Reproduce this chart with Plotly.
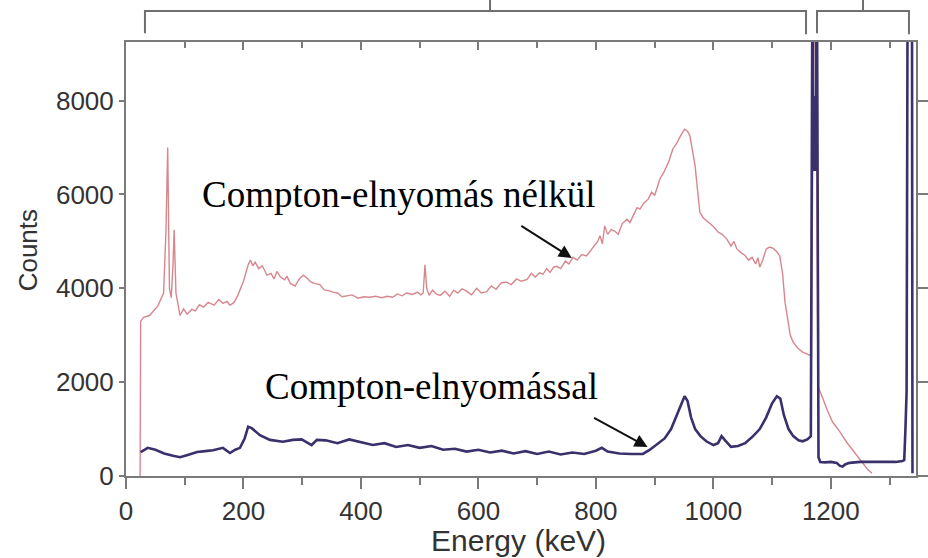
import plotly.graph_objects as go

# ---------------- data ----------------
pink_energy = [24, 25, 30, 40, 54, 64, 68, 71, 74, 77, 80, 82, 85, 92, 98, 104, 112, 118, 125, 132,
               140, 150, 158, 165, 172, 177, 184, 190, 200, 208, 212, 216, 220, 226, 232, 240, 247, 252,
               257, 263, 270, 274, 280, 288, 295, 302, 308, 315, 322, 330, 338, 345, 352, 360, 368, 376,
               385, 395, 405, 415, 425, 435, 445, 454, 462, 470, 478, 488, 496, 502, 506, 509, 512, 516,
               522, 528, 535, 543, 551, 558, 565, 572, 580, 588, 597, 605, 614, 622, 630, 639, 648, 656,
               665, 673, 683, 690, 697, 704, 710, 716, 722, 728, 733, 740, 748, 754, 761, 768, 776, 784,
               790, 797, 803, 807, 811, 815, 820, 826, 832, 838, 845, 853, 858, 864, 870, 875, 882, 889,
               895, 900, 909, 916, 924, 931, 938, 944, 951, 956, 960, 965, 969, 973, 977, 983, 990, 1000,
               1008, 1015, 1023, 1030, 1035, 1040, 1048, 1054, 1060, 1066, 1072, 1076, 1079, 1084, 1090,
               1096, 1102, 1108, 1113, 1118, 1122, 1126, 1131, 1136, 1144, 1152, 1160, 1167, 1170, 1172,
               1175, 1178, 1185, 1194, 1203, 1215, 1227, 1240, 1253, 1262, 1270]
pink_counts = [0, 3300, 3380, 3420, 3620, 3900, 5200, 7000, 4000, 3800, 4500, 5250, 3900, 3420, 3560,
               3450, 3550, 3520, 3650, 3600, 3700, 3640, 3760, 3680, 3720, 3640, 3700, 3840, 4150, 4500,
               4600, 4480, 4560, 4420, 4480, 4280, 4320, 4200, 4360, 4240, 4180, 4260, 4100, 4050, 4200,
               4280, 4220, 4130, 4100, 4080, 3960, 3950, 3920, 3900, 3820, 3840, 3860, 3790, 3820, 3810,
               3830, 3800, 3830, 3810, 3880, 3840, 3900, 3870, 3920, 3860, 3900, 4500, 4000, 3850, 3960,
               3880, 3850, 3940, 3830, 3960, 3900, 3990, 3940, 3860, 4000, 3900, 3930, 4050, 3980, 4120,
               4130, 4080, 4200, 4150, 4190, 4320, 4240, 4330, 4300, 4420, 4340, 4450, 4470, 4420, 4580,
               4520, 4660, 4600, 4720, 4690, 4780, 4900, 5000, 5120, 4950, 5330, 5150, 5250, 5220, 5150,
               5380, 5470, 5400, 5560, 5720, 5690, 5820, 5900, 6050, 5980, 6330, 6480, 6700, 6970, 7100,
               7250, 7390, 7350, 7250, 6900, 6600, 6100, 5620, 5500, 5420, 5320, 5200, 5150, 5050, 4900,
               5000, 4840, 4750, 4700, 4600, 4660, 4520, 4650, 4450, 4600, 4840, 4880, 4850, 4780, 4690,
               4300, 3700, 3350, 3000, 2850, 2720, 2640, 2600, 2560, 8000, 10000, 10000, 1900, 1700, 1400,
               1150, 950, 720, 500, 290, 150, 60]

blue_energy = [25, 37, 50, 65, 80, 92, 105, 121, 135, 148, 165, 177, 186, 194, 202, 208, 214, 221, 228,
               245, 267, 284, 299, 316, 325, 340, 360, 380, 400, 420, 440, 460, 480, 500, 520, 540, 560,
               580, 600, 620, 640, 660, 680, 700, 720, 740, 760, 780, 800, 810, 820, 840, 860, 880, 892,
               905, 917, 928, 938, 945, 951, 956, 962, 969, 978, 988, 1000, 1008, 1014, 1020, 1030, 1042,
               1054, 1066, 1079, 1090, 1100, 1108, 1114, 1120, 1128, 1136, 1145, 1152, 1160, 1166, 1169,
               1170, 1172, 1173.5, 1175, 1176, 1179, 1182, 1190, 1200, 1210, 1215, 1220, 1225, 1232, 1250,
               1270, 1290, 1310, 1322, 1325, 1327, 1329, 1331, 1338, 1339]
blue_counts = [510, 600, 560, 480, 430, 400, 450, 510, 530, 550, 600, 490, 560, 600, 800, 1050, 1020,
               950, 870, 770, 730, 770, 780, 660, 770, 760, 700, 780, 720, 660, 700, 620, 660, 600, 640,
               560, 580, 520, 560, 500, 540, 480, 530, 470, 520, 460, 500, 470, 540, 600, 520, 480, 470,
               470, 560, 680, 800, 1000, 1300, 1550, 1700, 1600, 1250, 1000, 850, 740, 660, 700, 850, 760,
               620, 640, 700, 830, 1000, 1250, 1550, 1700, 1650, 1300, 1000, 850, 760, 740, 780, 850,
               12000, 6500, 8100, 6500, 8100, 12000, 400, 300, 290, 300, 280, 220, 200, 250, 280, 300,
               300, 300, 300, 320, 340, 1000, 1800, 12000, 12000, 60]

x_ticks = [0, 200, 400, 600, 800, 1000, 1200]
x_minor = [100, 300, 500, 700, 900, 1100, 1300]
y_ticks = [0, 2000, 4000, 6000, 8000]

label_without = "Compton-elnyomás nélkül"
label_with = "Compton-elnyomással"

# ---------------- figure ----------------
AX = "#7a7a7a"
SANS = "Liberation Sans, Arial, Helvetica, sans-serif"
SERIF = "Liberation Serif, Times New Roman, serif"

fig = go.Figure()
fig.add_trace(go.Scatter(x=pink_energy, y=pink_counts, mode="lines",
                         line=dict(color="#d8868e", width=1.4), showlegend=False))
# drawn on the overlaid (top/right) axes so those frame axes exist; same ranges
fig.add_trace(go.Scatter(x=blue_energy, y=blue_counts, mode="lines", xaxis="x2", yaxis="y2",
                         line=dict(color="#39306c", width=2.6), showlegend=False))

X_RANGE = [0, 1345]
Y_RANGE = [0, 9250]

fig.update_layout(
    width=928, height=558,
    margin=dict(l=126, r=12, t=42, b=82, autoexpand=False),
    paper_bgcolor="white", plot_bgcolor="white",
    font=dict(family=SANS, color="#333333"),
    xaxis=dict(range=X_RANGE, showgrid=False, zeroline=False, showline=True, automargin=False,
               linecolor=AX, linewidth=2, ticks="outside", ticklen=11, tickwidth=2,
               tickcolor=AX, tickvals=x_ticks, tickfont=dict(size=26, color="#333333"),
               minor=dict(tickvals=x_minor, ticks="outside", ticklen=7, tickwidth=2,
                          tickcolor=AX, showgrid=False)),
    xaxis2=dict(range=X_RANGE, overlaying="x", side="top", anchor="y2", showgrid=False,
                automargin=False,
                zeroline=False, showline=True, linecolor=AX, linewidth=2, ticks="inside",
                ticklen=8, tickwidth=2, tickcolor=AX, tickvals=x_ticks, showticklabels=False,
                minor=dict(tickvals=x_minor, ticks="inside", ticklen=6, tickwidth=2,
                           tickcolor=AX, showgrid=False)),
    yaxis=dict(range=Y_RANGE, showgrid=False, zeroline=False, showline=True, automargin=False,
               linecolor=AX, linewidth=2, ticks="outside", ticklen=5, tickwidth=2,
               tickcolor=AX, tickvals=y_ticks, tickfont=dict(size=26, color="#333333")),
    yaxis2=dict(range=Y_RANGE, overlaying="y", side="right", anchor="x2", showgrid=False,
                automargin=False,
                zeroline=False, showline=True, linecolor=AX, linewidth=2, ticks="outside",
                ticklen=11, tickwidth=2, tickcolor=AX, tickvals=y_ticks,
                showticklabels=False),
)

# axis titles
fig.add_annotation(text="Energy (keV)", xref="paper", yref="paper", x=0.497, y=-0.148,
                   xanchor="center", yanchor="middle", showarrow=False,
                   font=dict(family=SANS, size=30, color="#333333"))
fig.add_annotation(text="Counts", xref="paper", yref="paper", x=-0.124, y=0.52,
                   xanchor="center", yanchor="middle", showarrow=False, textangle=-90,
                   font=dict(family=SANS, size=26, color="#333333"))

# labels with arrows
fig.add_annotation(text=label_without, x=465, y=6010, xanchor="center", yanchor="middle",
                   showarrow=False, bgcolor="white", borderpad=0,
                   font=dict(family=SERIF, size=37, color="black"))
fig.add_annotation(text=label_with, x=520, y=1897, xanchor="center", yanchor="middle",
                   showarrow=False, bgcolor="white", borderpad=0,
                   font=dict(family=SERIF, size=37, color="black"))
fig.add_annotation(text="", x=759, y=4646, ax=-52, ay=-33, showarrow=True,
                   arrowhead=2, arrowsize=1.3, arrowwidth=2, arrowcolor="#111111")
fig.add_annotation(text="", x=888, y=618, ax=-55, ay=-30, showarrow=True,
                   arrowhead=2, arrowsize=1.3, arrowwidth=2, arrowcolor="#111111")

# region brackets above the plot
BR = dict(color="#6f6f6f", width=2)
for x0, xc, x1 in [(0.024, 0.4608, 0.8608), (0.8747, 0.9329, 0.9911)]:
    fig.add_shape(type="path", xref="paper", yref="paper",
                  path=f"M {x0} 1.02 L {x0} 1.0714 L {x1} 1.0714 L {x1} 1.018",
                  line=BR)
    fig.add_shape(type="line", xref="paper", yref="paper", x0=xc, x1=xc,
                  y0=1.0714, y1=1.1, line=BR)

fig.write_html("out.html")
